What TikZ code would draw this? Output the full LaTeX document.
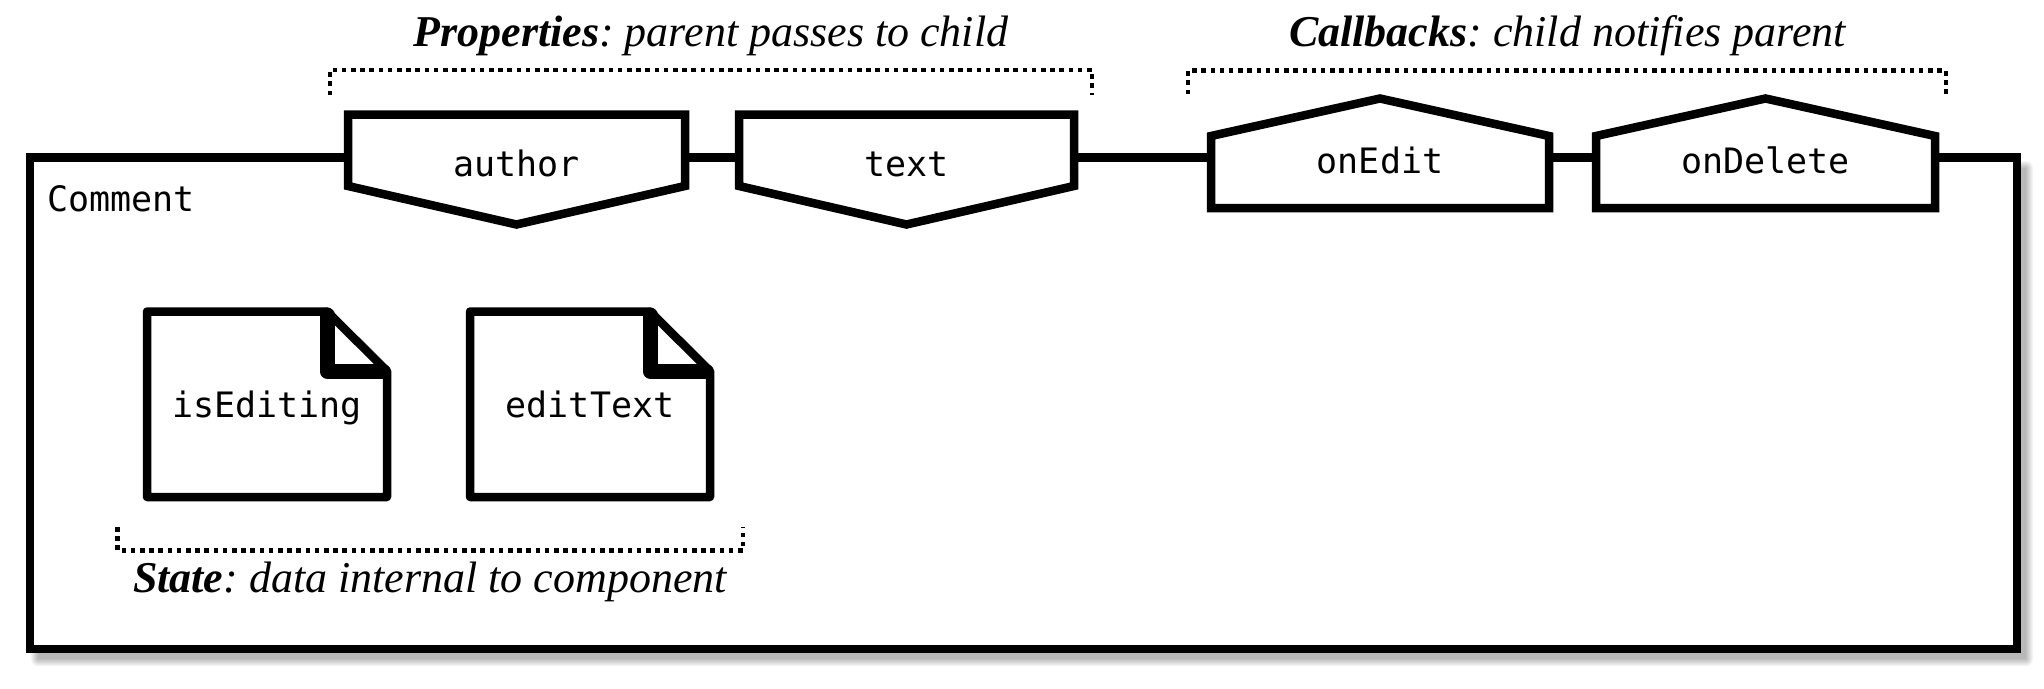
\documentclass[tikz,border=0pt]{standalone}
\usepackage{fontspec}
\setmainfont{Liberation Serif}
\setmonofont{DejaVu Sans Mono}
\usetikzlibrary{calc}
\tikzset{
  mono/.style={font=\fontsize{35}{40}\selectfont\ttfamily, inner sep=0pt},
  head/.style={font=\fontsize{44}{50}\selectfont\itshape\frenchspacing, inner sep=0pt, anchor=base},
  frame/.style={line width=8.5pt, draw=black, fill=white},
  portbox/.style={line width=8.5pt, draw=black, fill=white, line join=miter},
  docbox/.style={line width=8.5pt, draw=black, fill=white, line join=round, line cap=round},
  fold/.style={line width=15pt, draw=black, line join=round, line cap=round},
  bracket/.style={line width=4.2pt, draw=black, dash pattern=on 4.5pt off 4.7pt},
}
\begin{document}
\begin{tikzpicture}[x=1pt,y=-1pt]
\useasboundingbox (0,0) rectangle (2044,688);
% shadow of the component frame
\foreach \k in {0,...,7}{
  \fill[black, fill opacity=0.04, rounded corners=\k pt]
    (38-\k,168-\k) rectangle (2026+\k,659+\k);
}
% component frame
\node[frame, minimum width=1987pt, minimum height=491.5pt, inner sep=0pt] (comment) at (1023.5,403.25) {};
\node[mono, anchor=base west] (commentlbl) at (47,211) {Comment};

% property ports (point down)
\draw[portbox] (348,186) -- (348,114.5) -- (685,114.5) -- (685,186) -- (516.5,224.5) -- cycle;
\node[mono, anchor=base] (author) at (516.5,176) {author};
\draw[portbox] (739,186) -- (739,114.5) -- (1074,114.5) -- (1074,186) -- (906.5,224.5) -- cycle;
\node[mono, anchor=base] (text) at (906.5,176) {text};

% callback ports (point up)
\draw[portbox] (1211,208) -- (1211,136) -- (1380,98.5) -- (1549,136) -- (1549,208) -- cycle;
\node[mono, anchor=base] (onEdit) at (1380,173) {onEdit};
\draw[portbox] (1596,208) -- (1596,136) -- (1765.5,98.5) -- (1935,136) -- (1935,208) -- cycle;
\node[mono, anchor=base] (onDelete) at (1765.5,173) {onDelete};

% state documents
\draw[docbox] (147,311.5) -- (327,311.5) -- (387,371) -- (387,497) -- (147,497) -- cycle;
\draw[fold] (327,315) -- (327,371) -- (383,371);
\node[mono, anchor=base] (isEditing) at (267,417) {isEditing};
\draw[docbox] (470,311.5) -- (650,311.5) -- (710,371) -- (710,497) -- (470,497) -- cycle;
\draw[fold] (650,315) -- (650,371) -- (706,371);
\node[mono, anchor=base] (editText) at (590,417) {editText};

% brackets
\draw[bracket] (330,95) -- (330,70) -- (1092,70) -- (1092,95);
\draw[bracket] (1188,94) -- (1188,70.5) -- (1946,70.5) -- (1946,94);
\draw[bracket] (117.5,527) -- (117.5,550.5) -- (743,550.5) -- (743,527);

% headings
\node[head] (props) at (711,46.5) {{\bfseries Properties}: parent passes to child};
\node[head] (calls) at (1567.5,46.5) {{\bfseries Callbacks}: child notifies parent};
\node[head] (state) at (430,592) {{\bfseries State}: data internal to component};
\end{tikzpicture}
\end{document}
